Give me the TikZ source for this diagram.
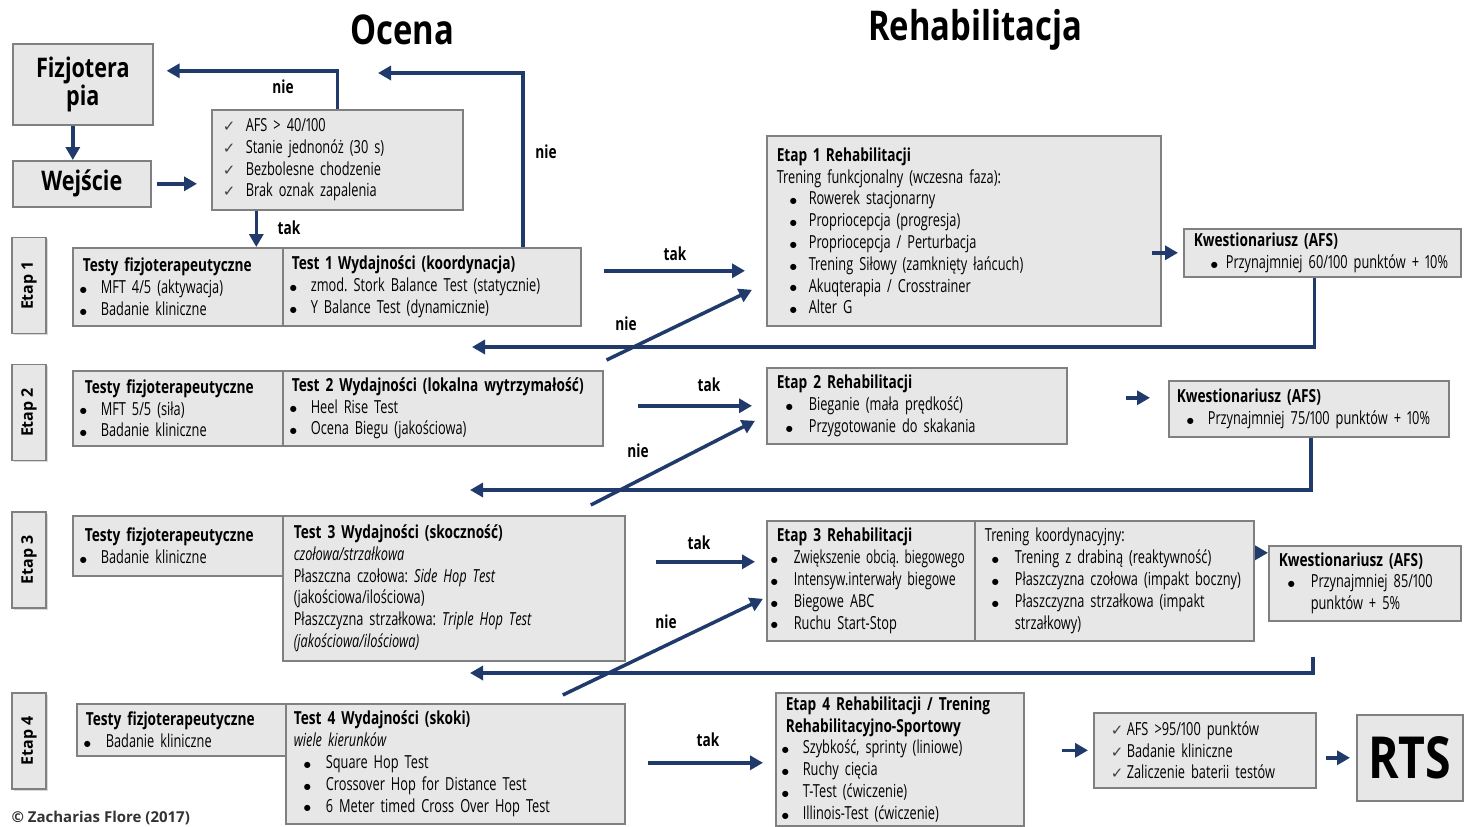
\documentclass[tikz,border=0pt]{standalone}
\usepackage{fontspec}
\setmainfont{Open Sans}[FakeStretch=0.71, Numbers=Proportional,
    BoldFeatures={FakeStretch=0.76}]
\newfontfamily\midfont{Open Sans}[FakeStretch=0.8, Numbers=Proportional]
\newfontfamily\widefont{Open Sans}
\newfontfamily\symfont{DejaVu Sans}
\usepackage{graphicx}
\usepackage{xcolor}
\usepackage{tikz}
\usetikzlibrary{arrows.meta,shadows}
\frenchspacing

\definecolor{granat}{HTML}{1F3A6B}
\definecolor{ramka}{HTML}{808080}
\definecolor{tlo}{HTML}{E7E7E7}

\newcommand\tekst{\fontsize{18}{21.8}\selectfont}
\newcommand\pkt[2]{\hspace*{#1pt}\makebox[#2pt][l]{\raisebox{1.2pt}{\symfont\fontsize{8}{8}\selectfont ●}}}
\newcommand\ok[2]{\hspace*{#1pt}\makebox[#2pt][l]{\symfont\fontsize{15}{15}\selectfont\color{black!75}✓}}
\newcommand\wc[1]{\hspace*{#1pt}}

\begin{document}
\begin{tikzpicture}[
        x=1pt, y=-1pt,
        box/.style = {draw=ramka, fill=tlo, line width=1.6pt, anchor=north west,
            align=left, inner xsep=4pt, inner ysep=0pt, font=\tekst,
            drop shadow={shadow xshift=1.5pt, shadow yshift=-1.5pt, opacity=0.3}},
        bigbox/.style = {box, align=center, font=\midfont\fontsize{27}{24}\selectfont\bfseries},
        etap/.style = {draw=ramka, fill=tlo, line width=1.6pt, rotate=90,
            minimum width=96pt, minimum height=34pt, inner sep=0pt,
            font=\widefont\fontsize{16}{16}\selectfont\bfseries,
            drop shadow={shadow xshift=1.5pt, shadow yshift=-1.5pt, opacity=0.3}},
        tytul/.style = {font=\midfont\fontsize{41}{41}\selectfont\bfseries},
        lbl/.style = {font=\tekst\bfseries, inner sep=1pt},
        arr/.style = {-{Triangle[length=13pt,width=14pt]}, line width=3.5pt, draw=granat}
    ]
    \useasboundingbox (0,0) rectangle (1465,827);

    % titles
    \node[tytul] (ocena) at (402,30) {Ocena};
    \node[tytul] (rehab) at (975,30) {Rehabilitacja};

    % entry part
    \node[bigbox, text width=132pt, minimum height=81pt] (fizjo) at (12,43) {Fizjotera\\pia};
    \node[bigbox, text width=130pt, minimum height=46pt] (wej) at (12,160) {Wejście};
    \node[box, text width=243pt, minimum height=100pt] (chk0) at (211,109)
        {\ok{7}{23}AFS > 40/100\\ \ok{7}{23}Stanie jednonóż (30 s)\\
         \ok{7}{23}Bezbolesne chodzenie\\ \ok{7}{23}Brak oznak zapalenia};

    % stage labels
    \node[etap] (e1) at (29,285.5) {Etap 1};
    \node[etap] (e2) at (29,412.5) {Etap 2};
    \node[etap] (e3) at (29,560) {Etap 3};
    \node[etap] (e4) at (29,741) {Etap 4};

    % Etap 1
    \node[box, text width=202pt, minimum height=78pt] (ts1) at (72,247)
        {\wc{6}\textbf{Testy fizjoterapeutyczne}\\ \pkt{3}{21}MFT 4/5 (aktywacja)\\ \pkt{3}{21}Badanie kliniczne};
    \node[box, text width=290pt, minimum height=78pt] (t1) at (282,247)
        {\wc{5}\textbf{Test 1 Wydajności (koordynacja)}\\ \pkt{3}{21}zmod. Stork Balance Test (statycznie)\\
         \pkt{3}{21}Y Balance Test (dynamicznie)};
    \node[box, text width=386pt, minimum height=190pt] (r1) at (766,135)
        {\wc{6}\textbf{Etap 1 Rehabilitacji}\\ \wc{6}Trening funkcjonalny (wczesna faza):\\
         \pkt{19}{19}Rowerek stacjonarny\\ \pkt{19}{19}Propriocepcja (progresja)\\
         \pkt{19}{19}Propriocepcja / Perturbacja\\ \pkt{19}{19}Trening Siłowy (zamknięty łańcuch)\\
         \pkt{19}{19}Akuqterapia / Crosstrainer\\ \pkt{19}{19}Alter G};
    \node[box, text width=269pt, minimum height=48pt] (k1) at (1183,228)
        {\wc{6}\textbf{Kwestionariusz (AFS)}\\ \pkt{23}{15}Przynajmniej 60/100 punktów + 10\%};

    % Etap 2
    \node[box, text width=202pt, minimum height=75pt] (ts2) at (72,370)
        {\wc{8}\textbf{Testy fizjoterapeutyczne}\\ \pkt{3}{21}MFT 5/5 (siła)\\ \pkt{3}{21}Badanie kliniczne};
    \node[box, text width=312pt, minimum height=75pt] (t2) at (282,370)
        {\wc{5}\textbf{Test 2 Wydajności (lokalna wytrzymałość)}\\ \pkt{3}{21}Heel Rise Test\\
         \pkt{3}{21}Ocena Biegu (jakościowa)};
    \node[box, text width=292pt, minimum height=76pt] (r2) at (766,367)
        {\wc{6}\textbf{Etap 2 Rehabilitacji}\\ \pkt{15}{23}Bieganie (mała prędkość)\\
         \pkt{15}{23}Przygotowanie do skakania};
    \node[box, text width=272pt, minimum height=56pt] (k2) at (1168,380)
        {\wc{4}\textbf{Kwestionariusz (AFS)}\\ \pkt{14}{21}Przynajmniej 75/100 punktów + 10\%};

    % Etap 3
    \node[box, text width=202pt, minimum height=60pt] (ts3) at (72,515)
        {\wc{8}\textbf{Testy fizjoterapeutyczne}\\ \pkt{3}{21}Badanie kliniczne};
    \node[box, text width=334pt, minimum height=145pt] (t3) at (282,515)
        {\wc{7}\textbf{Test 3 Wydajności (skoczność)}\\ \wc{7}\textit{czołowa/strzałkowa}\\
         \wc{7}Płaszczna czołowa: \textit{Side Hop Test}\\ \wc{7}(jakościowa/ilościowa)\\
         \wc{7}Płaszczyzna strzałkowa: \textit{Triple Hop Test}\\ \wc{7}\textit{(jakościowa/ilościowa)}};
    \node[box, text width=200pt, minimum height=120pt] (r3) at (766,520)
        {\wc{6}\textbf{Etap 3 Rehabilitacji}\\ \pkt{0}{23}\scalebox{0.93}[1]{Zwiększenie obcią. biegowego}\\
         \pkt{0}{23}\scalebox{0.97}[1]{Intensyw.interwały biegowe}\\ \pkt{0}{23}Biegowe ABC\\ \pkt{0}{23}Ruchu Start-Stop};
    \node[box, text width=271pt, minimum height=120pt] (tk3) at (974,520)
        {\wc{6}Trening koordynacyjny:\\ \pkt{13}{23}Trening z drabiną (reaktywność)\\
         \pkt{13}{23}Płaszczyzna czołowa (impakt boczny)\\ \pkt{13}{23}Płaszczyzna strzałkowa (impakt\\
         \wc{36}strzałkowy)};
    \node[box, text width=184pt, minimum height=75pt] (k3) at (1268,545)
        {\wc{6}\textbf{Kwestionariusz (AFS)}\\ \pkt{15}{23}Przynajmniej 85/100\\ \wc{38}punktów + 5\%};

    % Etap 4
    \node[box, text width=201pt, minimum height=52pt] (ts4) at (76,703)
        {\wc{5}\textbf{Testy fizjoterapeutyczne}\\ \pkt{3}{22}Badanie kliniczne};
    \node[box, text width=331pt, minimum height=120pt] (t4) at (285,703)
        {\wc{4}\textbf{Test 4 Wydajności (skoki)}\\ \wc{4}\textit{wiele kierunków}\\
         \pkt{14}{22}Square Hop Test\\ \pkt{14}{22}Crossover Hop for Distance Test\\
         \pkt{14}{22}6 Meter timed Cross Over Hop Test};
    \node[box, text width=240pt, minimum height=133pt] (r4) at (775,692)
        {\wc{6}\textbf{Etap 4 Rehabilitacji / Trening}\\ \wc{6}\textbf{Rehabilitacyjno-Sportowy}\\
         \pkt{2}{21}Szybkość, sprinty (liniowe)\\ \pkt{2}{21}Ruchy cięcia\\
         \pkt{2}{21}T-Test (ćwiczenie)\\ \pkt{2}{21}Illinois-Test (ćwiczenie)};
    \node[box, text width=214pt, minimum height=75pt] (chk4) at (1093,712)
        {\ok{13}{16}AFS >95/100 punktów\\ \ok{13}{16}Badanie kliniczne\\ \ok{13}{16}Zaliczenie baterii testów};
    \node[box, align=center, text width=98pt, minimum height=86pt,
        font=\midfont\fontsize{58}{58}\selectfont\bfseries] (rts) at (1356,714) {RTS};

    \node[anchor=west, text=black!80, font=\widefont\fontsize{15}{15}\selectfont\bfseries] (copy) at (8,818)
        {© Zacharias Flore (2017)};

    % entry arrows
    \draw[arr] ([xshift=-10pt]fizjo.south) -- ([xshift=-10pt]fizjo.south |- wej.north);
    \draw[arr] ([xshift=5pt]wej.east) -- ([xshift=-14pt]wej.east -| chk0.west);
    \draw[arr] ([xshift=-81pt]chk0.south) -- ([xshift=-81pt]chk0.south |- ts1.north);
    \draw[arr] (chk0.north) |- ([xshift=13pt,yshift=13.5pt]fizjo.east);
    \coordinate (nie1) at (378,73);
    \draw[arr] ([xshift=91pt]t1.north) |- (nie1);
    \node[lbl] (tak0) at (289,228) {tak};
    \node[lbl] (nie0l) at (283,87) {nie};
    \node[lbl] (nie1l) at (546,152) {nie};

    % Etap 1 arrows
    \draw[arr] ([xshift=22pt,yshift=16pt]t1.east) -- ([xshift=-21pt,yshift=16pt]t1.east -| r1.west);
    \node[lbl] (tak1) at (675,254) {tak};
    \draw[arr] ([xshift=3pt,yshift=10pt]t2.north east) -- ([xshift=-14pt,yshift=-59pt]r1.west);
    \node[lbl] (nie2l) at (626,324) {nie};
    \draw[arr] ([xshift=-10pt]r1.east |- k1.west) -- ([xshift=-5pt]k1.west);
    \coordinate (back1) at (472,347);
    \draw[arr] ([xshift=-8pt]k1.south) |- (back1);

    % Etap 2 arrows
    \draw[arr] ([xshift=34pt]t2.east |- r2.west) -- ([xshift=-14pt]r2.west);
    \node[lbl] (tak2) at (709,385) {tak};
    \draw[arr] ([xshift=137pt,yshift=10pt]t3.north) -- ([xshift=-11pt,yshift=-15pt]r2.west);
    \node[lbl] (nie3l) at (638,451) {nie};
    \draw[arr] ([xshift=58pt,yshift=8pt]r2.east) -- ([xshift=-18pt,yshift=11pt]k2.west);
    \coordinate (back2) at (470,490);
    \draw[arr] ([xshift=2pt]k2.south) |- (back2);

    % Etap 3 arrows
    \draw[arr] ([xshift=30pt,yshift=26.5pt]t3.east) -- ([xshift=-11pt,yshift=19pt]r3.west);
    \node[lbl] (tak3) at (699,543) {tak};
    \draw[arr] ([xshift=107.5pt,yshift=8pt]t4.north) -- ([xshift=-3pt,yshift=-18pt]r3.west);
    \node[lbl] (nie4l) at (666,622) {nie};
    \draw[arr] ([yshift=28pt]tk3.east) -- ([yshift=28pt]tk3.east -| k3.west);
    \coordinate (back3) at (470,673);
    \draw[arr] ([xshift=-52pt,yshift=-35pt]k3.south) |- (back3);

    % Etap 4 arrows
    \draw[arr] ([xshift=22pt,yshift=1pt]t4.east) -- ([xshift=-12pt,yshift=-3.5pt]r4.west);
    \node[lbl] (tak4) at (708,740) {tak};
    \draw[arr] ([xshift=37pt]r4.east |- chk4.west) -- ([xshift=-5pt]chk4.west);
    \draw[arr] ([xshift=9pt]chk4.east |- rts.west) -- ([xshift=-6pt]rts.west);

\end{tikzpicture}
\end{document}
